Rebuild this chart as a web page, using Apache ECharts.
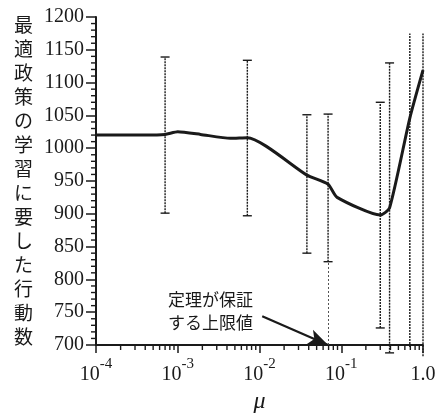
<!DOCTYPE html>
<html>
<head>
<meta charset="utf-8">
<script src="https://cdn.jsdelivr.net/npm/echarts@6/dist/echarts.min.js"></script>
<style>
  html, body { margin: 0; padding: 0; background: #fff; }
  #main { width: 437px; height: 415px; }
</style>
</head>
<body>
<div id="main"></div>
<script>
// mean number of actions until the optimal policy is learned, vs mu
const lineMu = [0.0001, 0.0004, 0.0007, 0.001, 0.0019, 0.0044, 0.0071, 0.038, 0.069, 0.089, 0.30, 0.39, 0.69, 1.0]
const lineSteps = [1020, 1020, 1021, 1025, 1021, 1015, 1016, 959, 945, 925, 898, 909, 1046, 1119]

// error bars (low / high); highs above 1175 run off the top of the frame
const barMu = [0.0007, 0.0071, 0.038, 0.069, 0.30, 0.39, 0.69, 1.0]
const barLow = [901, 897, 840, 827, 726, 688, 697, 683]
const barHigh = [1139, 1134, 1051, 1052, 1070, 1130, 1250, 1250]

// bound guaranteed by the theorem
const boundMu = 0.069
const arrowFrom = [0.0108, 744]

const xTickLabels = { '0.0001': '-4', '0.001': '-3', '0.01': '-2', '0.1': '-1' }
const decades = [0.0001, 0.001, 0.01, 0.1]
const minorSteps = [2, 3, 4, 5, 6, 7, 8, 9]
const yMajorStep = 50
const yMinorStep = 10

const yTitle = '最適政策の学習に要した行動数'
const noteText = '定理が保証\nする上限値'

const topLimit = 1175
const ink = '#1a1a1a'
const serif = '"Liberation Serif", "DejaVu Serif", serif'

const minorTicks = []
decades.forEach((d) => {
  minorSteps.forEach((m) => minorTicks.push([d * m, 700]))
})
const yMinorTicks = []
for (let v = 700 + yMinorStep; v < 1200; v += yMinorStep) {
  if (v % yMajorStep) yMinorTicks.push([0.0001, v])
}

const chart = echarts.init(document.getElementById('main'))

const option = {
  animation: false,
  grid: { left: 96, right: 14, top: 17, bottom: 70, outerBoundsMode: 'none' },
  xAxis: {
    type: 'log',
    logBase: 10,
    min: 0.0001,
    max: 1,
    name: 'μ',
    nameLocation: 'middle',
    nameGap: 42,
    nameTextStyle: { fontFamily: serif, fontStyle: 'italic', fontSize: 24, color: ink },
    axisLine: { lineStyle: { color: ink, width: 2 } },
    axisTick: { length: 8, lineStyle: { color: ink, width: 1.5 } },
    splitLine: { show: false },
    axisLabel: {
      margin: 12,
      formatter: (v) => {
        const key = String(+v.toPrecision(3))
        if (xTickLabels[key]) return '{b|10}{s|' + xTickLabels[key] + '}'
        return '{b|1.0}'
      },
      rich: {
        b: { fontFamily: serif, fontSize: 20, color: ink, lineHeight: 36 },
        s: { fontFamily: serif, fontSize: 15, color: ink, lineHeight: 15, verticalAlign: 'top' }
      }
    }
  },
  yAxis: {
    type: 'value',
    min: 700,
    max: 1200,
    interval: yMajorStep,
    name: yTitle.split('').join('\n'),
    nameLocation: 'middle',
    nameRotate: 0,
    nameGap: 63,
    nameTextStyle: { fontFamily: '"Noto Sans CJK JP", sans-serif', fontSize: 19, lineHeight: 24, color: ink },
    axisLine: { show: true, lineStyle: { color: ink, width: 2 } },
    axisTick: { show: true, length: 10, lineStyle: { color: ink, width: 1.5 } },
    splitLine: { show: false },
    axisLabel: { fontFamily: serif, fontSize: 20, color: ink, margin: 12, formatter: (v) => String(v) }
  },
  series: [
    {
      type: 'line',
      data: lineMu.map((m, i) => [m, lineSteps[i]]),
      symbol: 'none',
      smooth: 0.2,
      z: 5,
      lineStyle: { color: ink, width: 3 },
      markLine: {
        silent: true,
        symbol: ['none', 'none'],
        label: { show: false },
        data: [
          [
            { coord: [boundMu, 700], lineStyle: { type: [2, 2], color: '#555', width: 1 } },
            { coord: [boundMu, barLow[3]] }
          ],
          [
            { coord: arrowFrom, symbol: 'none', lineStyle: { type: 'solid', color: ink, width: 2.2 } },
            { coord: [boundMu, 700], symbol: 'arrow', symbolSize: [12, 20] }
          ]
        ]
      }
    },
    {
      type: 'custom',
      clip: false,
      z: 4,
      data: barMu.map((m, i) => [m, barLow[i], barHigh[i]]),
      renderItem: (params, api) => {
        const mu = api.value(0)
        const high = api.value(2)
        const open = high > topLimit
        const lo = api.coord([mu, api.value(1)])
        const hi = api.coord([mu, Math.min(high, topLimit)])
        const style = { stroke: ink, lineWidth: 1.4, lineDash: [2, 1] }
        const children = [{ type: 'line', shape: { x1: lo[0], y1: lo[1], x2: hi[0], y2: hi[1] }, style }]
        if (!open) {
          const capStyle = { stroke: ink, lineWidth: 1.4 }
          children.push({ type: 'line', shape: { x1: lo[0] - 4.5, y1: lo[1], x2: lo[0] + 4.5, y2: lo[1] }, style: capStyle })
          children.push({ type: 'line', shape: { x1: hi[0] - 4.5, y1: hi[1], x2: hi[0] + 4.5, y2: hi[1] }, style: capStyle })
        }
        return { type: 'group', children }
      }
    },
    {
      // log minor ticks on the mu axis
      type: 'custom',
      clip: false,
      silent: true,
      z: 6,
      data: minorTicks,
      renderItem: (params, api) => {
        const p = api.coord([api.value(0), api.value(1)])
        return { type: 'line', shape: { x1: p[0], y1: p[1], x2: p[0], y2: p[1] + 5 }, style: { stroke: ink, lineWidth: 1.4 } }
      }
    },
    {
      // minor ticks on the step axis
      type: 'custom',
      clip: false,
      silent: true,
      z: 6,
      data: yMinorTicks,
      renderItem: (params, api) => {
        const p = api.coord([api.value(0), api.value(1)])
        return { type: 'line', shape: { x1: p[0] - 5, y1: p[1], x2: p[0], y2: p[1] }, style: { stroke: ink, lineWidth: 1.4 } }
      }
    }
  ],
  graphic: [
    {
      type: 'text',
      left: 168,
      top: 288,
      style: {
        text: noteText,
        font: '17px "Noto Sans CJK JP", sans-serif',
        lineHeight: 23,
        fill: ink,
        textAlign: 'left'
      }
    }
  ]
}

chart.setOption(option)
</script>
</body>
</html>
